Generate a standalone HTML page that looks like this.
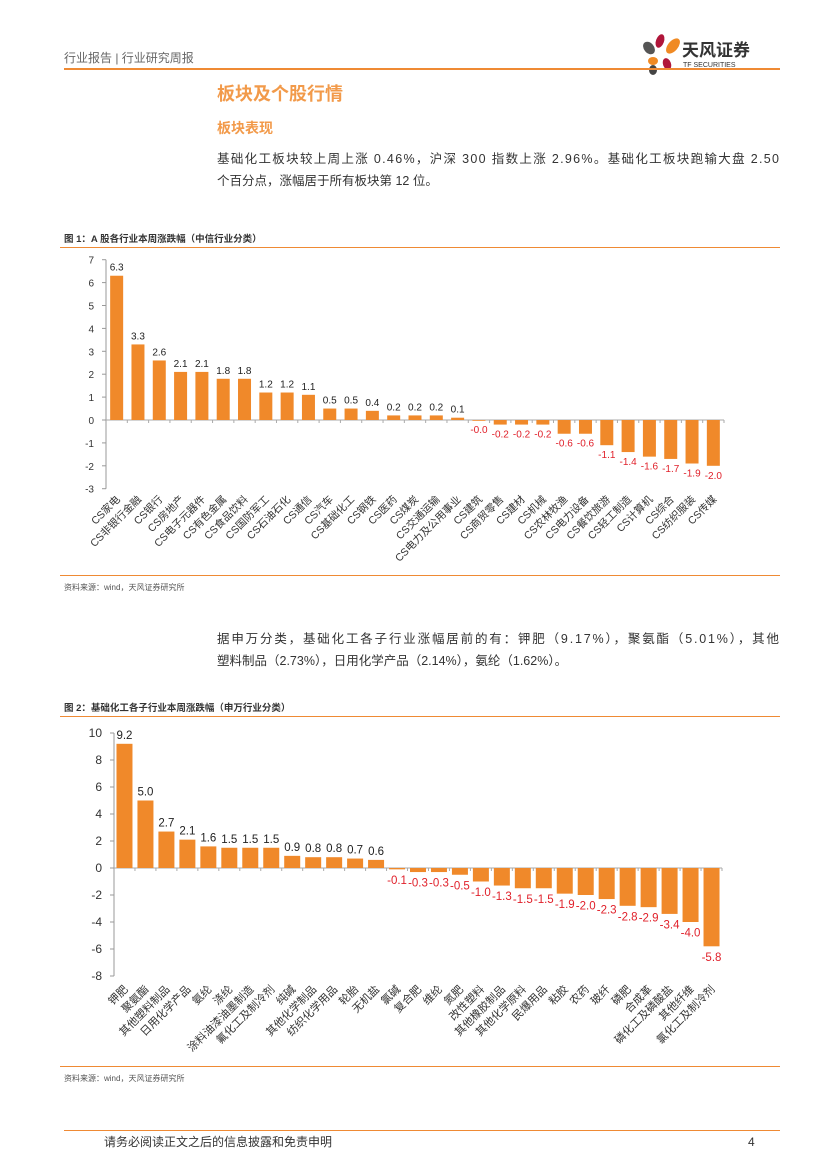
<!DOCTYPE html>
<html><head><meta charset="utf-8"><style>
html,body{margin:0;padding:0;background:#fff}
svg{display:block}
text{font-family:"Liberation Sans","Noto Sans CJK SC",sans-serif}
</style></head><body>
<svg id="page" width="827" height="1169" viewBox="0 0 827 1169" xmlns="http://www.w3.org/2000/svg">
<text x="64" y="62" font-size="12" fill="#666">行业报告 | 行业研究周报</text>
<g>
<ellipse cx="660" cy="41" rx="4" ry="7" fill="#b0153a" transform="rotate(20 660 41)"/>
<ellipse cx="649" cy="48" rx="5" ry="7" fill="#555" transform="rotate(-40 649 48)"/>
<ellipse cx="673" cy="46" rx="5" ry="9" fill="#f08a24" transform="rotate(40 673 46)"/>
<ellipse cx="653" cy="61" rx="5" ry="4" fill="#f08a24"/>
<ellipse cx="667" cy="64" rx="4" ry="6" fill="#b0153a" transform="rotate(-20 667 64)"/>
<ellipse cx="653" cy="70" rx="4" ry="5" fill="#444"/>
<text x="682" y="56" font-size="17" font-weight="bold" fill="#333">天风证券</text>
<text x="683" y="67" font-size="7" fill="#333">TF SECURITIES</text>
</g>
<rect x="64" y="68" width="716" height="2" fill="#ef8a34"/>
<text x="217" y="100" font-size="18" font-weight="bold" fill="#f29a4a">板块及个股行情</text>
<text x="217" y="133" font-size="14" font-weight="bold" fill="#f29a4a">板块表现</text>
<text x="217" y="163" font-size="12.5" fill="#333" textLength="562">基础化工板块较上周上涨 0.46%，沪深 300 指数上涨 2.96%。基础化工板块跑输大盘 2.50</text>
<text x="217" y="185" font-size="12.5" fill="#333">个百分点，涨幅居于所有板块第 12 位。</text>

<text x="64" y="242" font-size="9.5" font-weight="bold" fill="#333">图 1：A 股各行业本周涨跌幅（中信行业分类）</text>
<rect x="60" y="247" width="720" height="1" fill="#ef8a34"/>
<g id="chart1"></g>
<rect x="60" y="575" width="720" height="1" fill="#ef8a34"/>
<text x="64" y="590" font-size="8" fill="#555">资料来源：wind，天风证券研究所</text>

<text x="217" y="643" font-size="12.5" fill="#333" textLength="562">据申万分类，基础化工各子行业涨幅居前的有：钾肥（9.17%），聚氨酯（5.01%），其他</text>
<text x="217" y="665" font-size="12.5" fill="#333">塑料制品（2.73%），日用化学产品（2.14%），氨纶（1.62%）。</text>

<text x="64" y="711" font-size="9.5" font-weight="bold" fill="#333">图 2：基础化工各子行业本周涨跌幅（申万行业分类）</text>
<rect x="60" y="716" width="720" height="1" fill="#ef8a34"/>
<g id="chart2"></g>
<rect x="60" y="1066" width="720" height="1" fill="#ef8a34"/>
<text x="64" y="1081" font-size="8" fill="#555">资料来源：wind，天风证券研究所</text>

<rect x="64" y="1130" width="716" height="1" fill="#ef8a34"/>
<text x="104" y="1146" font-size="12" fill="#333">请务必阅读正文之后的信息披露和免责申明</text>
<text x="748" y="1146" font-size="12" fill="#333">4</text>
</svg>
<script>
const cats1 = ["CS家电","CS非银行金融","CS银行","CS房地产","CS电子元器件","CS有色金属","CS食品饮料","CS国防军工","CS石油石化","CS通信","CS汽车","CS基础化工","CS钢铁","CS医药","CS煤炭","CS交通运输","CS电力及公用事业","CS建筑","CS商贸零售","CS建材","CS机械","CS农林牧渔","CS电力设备","CS餐饮旅游","CS轻工制造","CS计算机","CS综合","CS纺织服装","CS传媒"];
const vals1 = [6.3,3.3,2.6,2.1,2.1,1.8,1.8,1.2,1.2,1.1,0.5,0.5,0.4,0.2,0.2,0.2,0.1,-0.01,-0.2,-0.2,-0.2,-0.6,-0.6,-1.1,-1.4,-1.6,-1.7,-1.9,-2.0];
const ticks1 = [7,6,5,4,3,2,1,0,-1,-2,-3];
const cats2 = ["钾肥","聚氨酯","其他塑料制品","日用化学产品","氨纶","涤纶","涂料油漆油墨制造","氟化工及制冷剂","纯碱","其他化学制品","纺织化学用品","轮胎","无机盐","氯碱","复合肥","维纶","氮肥","改性塑料","其他橡胶制品","其他化学原料","民爆用品","粘胶","农药","玻纤","磷肥","合成革","磷化工及磷酸盐","其他纤维","氯化工及制冷剂"];
const vals2 = [9.2,5.0,2.7,2.1,1.6,1.5,1.5,1.5,0.9,0.8,0.8,0.7,0.6,-0.1,-0.3,-0.3,-0.5,-1.0,-1.3,-1.5,-1.5,-1.9,-2.0,-2.3,-2.8,-2.9,-3.4,-4.0,-5.8];
const ticks2 = [10,8,6,4,2,0,-2,-4,-6,-8];

const NS="http://www.w3.org/2000/svg";
function mk(parent,tag,attrs){const e=document.createElementNS(NS,tag);for(const k in attrs)e.setAttribute(k,attrs[k]);parent.appendChild(e);return e;}

function drawChart(g,cats,vals,ticks,cfg){
  const y=v=>cfg.y0-v*cfg.k;
  const step=(cfg.xEnd-cfg.xStart)/cats.length;
  const x=i=>cfg.xStart+step*(i+0.5);
  const ax=mk(g,'line',{x1:cfg.xStart,x2:cfg.xStart,y1:y(ticks[0]),y2:y(ticks[ticks.length-1]),stroke:'#999','stroke-width':1});
  
  
  ticks.forEach(t=>{
    const tl=mk(g,'text',{x:cfg.xStart-12,y:y(t)+4,'font-size':cfg.tickFs,'text-anchor':'end',fill:'#333'});
    tl.textContent=t;
    
    
    mk(g,'line',{x1:cfg.xStart-4,x2:cfg.xStart,y1:y(t),y2:y(t),stroke:'#999'});
  });
  const xa=mk(g,'line',{x1:cfg.xStart,x2:cfg.xEnd,y1:y(0),y2:y(0),stroke:'#aaa','stroke-width':1});
  
  
  cats.forEach((c,i)=>{
    const v=vals[i];
    const top=Math.min(y(v),y(0)),h=Math.max(Math.abs(y(v)-y(0)),0.8);
    const r=mk(g,'rect',{x:x(i)-cfg.bw/2,y:top,width:cfg.bw,height:h,fill:'#f0892a'});
    
    
    mk(g,'line',{x1:cfg.xStart+step*(i+1),x2:cfg.xStart+step*(i+1),y1:y(0),y2:y(0)+3,stroke:'#aaa'});
    const lbl=mk(g,'text',{x:x(i),y:v>=0?y(v)-5:y(v)+cfg.valFs+3,'font-size':cfg.valFs,'text-anchor':'middle',fill:v>=0?'#222':'#e0202a'});
    lbl.textContent=(v<0&&v>-0.05)?'-0.0':v.toFixed(1);
    
    
    const cl=mk(g,'text',{x:x(i)+4,y:cfg.labY,'font-size':cfg.catFs,'text-anchor':'end',fill:'#333',transform:`rotate(-45 ${x(i)+4} ${cfg.labY})`});
    cl.textContent=c;
    
    
  });
}
drawChart(document.getElementById('chart1'),cats1,vals1,ticks1,{xStart:106,xEnd:724,y0:420,k:22.9,bw:13,tickFs:10,valFs:10,catFs:10.5,labY:500});
drawChart(document.getElementById('chart2'),cats2,vals2,ticks2,{xStart:114,xEnd:722,y0:868,k:13.5,bw:16,tickFs:12,valFs:11.5,catFs:11,labY:990});
</script>
</body></html>
